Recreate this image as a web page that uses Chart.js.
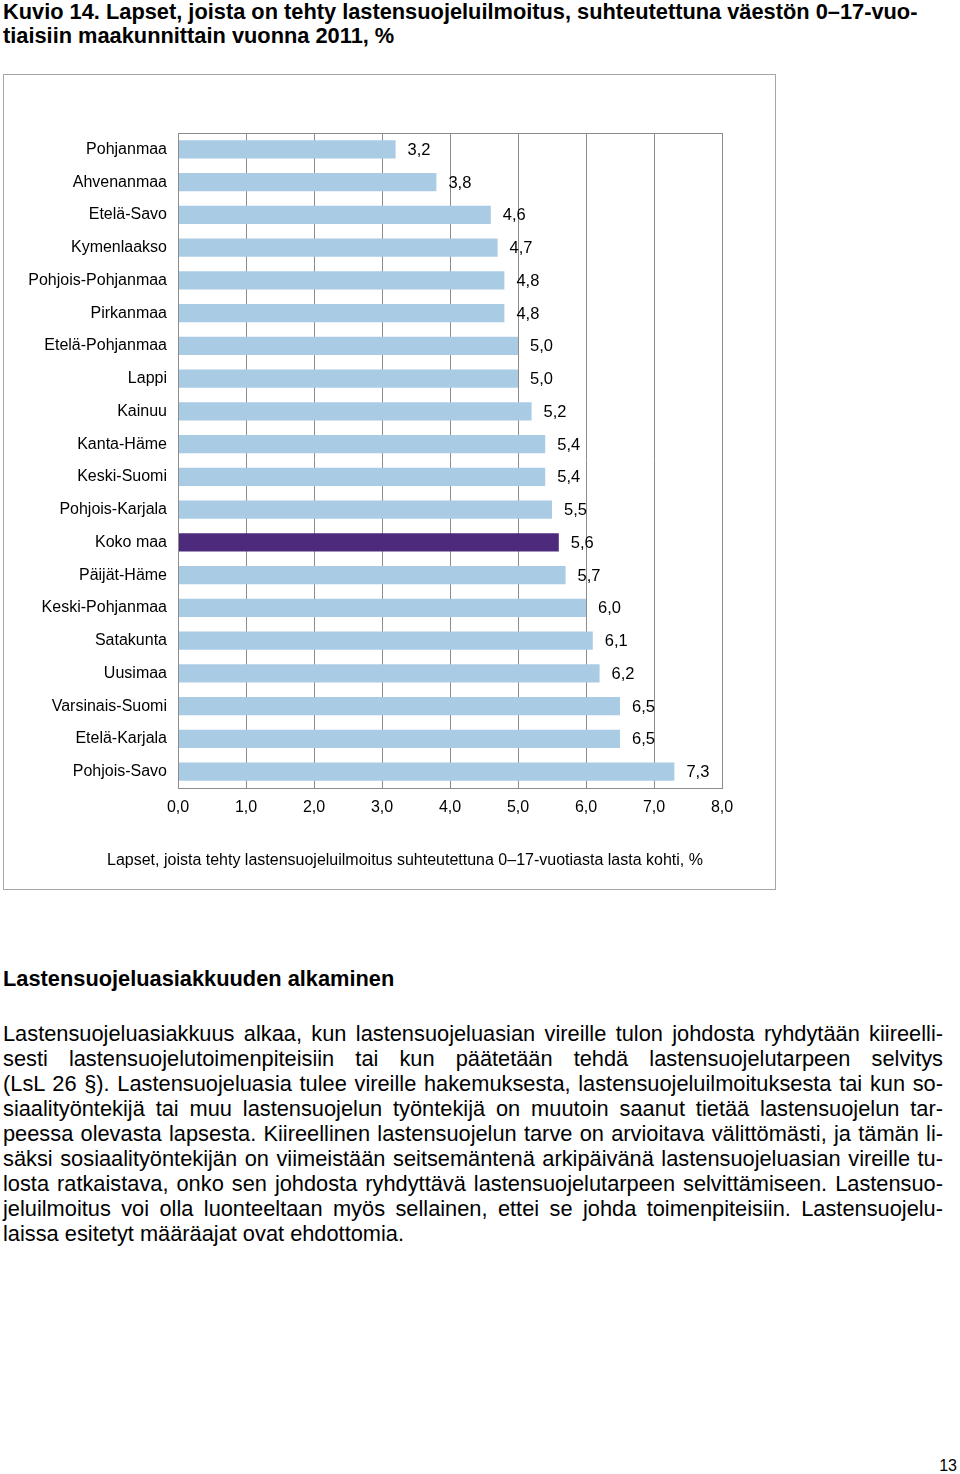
<!DOCTYPE html>
<html>
<head>
<meta charset="utf-8">
<script src="https://cdn.jsdelivr.net/npm/chart.js@4/dist/chart.umd.min.js"></script>
<style>
    body { margin: 0; background: #fff; font-family: "Liberation Sans", Arial, sans-serif; color: #000; }
    .page { position: relative; width: 960px; height: 1474px; }
    .title { position: absolute; left: 3px; top: 0px; font-size: 21.8px; font-weight: bold; line-height: 24px; white-space: nowrap; }
    .box { position: absolute; left: 3px; top: 74px; width: 771px; height: 814px; border: 1px solid #a6a6a6; }
    #chart { position: absolute; left: 3px; top: 74px; }
    .axisTitle { position: absolute; left: 107px; top: 851px; font-size: 16px; white-space: nowrap; }
    .heading { position: absolute; left: 3px; top: 966px; font-size: 21.8px; font-weight: bold; }
    .para { position: absolute; left: 3px; top: 1021px; width: 940px; font-size: 21.8px; line-height: 25px; }
    .para div { text-align: justify; text-align-last: justify; white-space: nowrap; }
    .para div.last { text-align-last: left; }
    .pageNo { position: absolute; right: 3px; top: 1457px; font-size: 16px; }
</style>
</head>
<body>
<div class="page">
    <div class="title">Kuvio 14. Lapset, joista on tehty lastensuojeluilmoitus, suhteutettuna väestön 0–17-vuo-<br>tiaisiin maakunnittain vuonna 2011, %</div>
    <div class="box"></div>
    <canvas id="chart" width="773" height="816"></canvas>
    <div class="axisTitle">Lapset, joista tehty lastensuojeluilmoitus suhteutettuna 0–17-vuotiasta lasta kohti, %</div>
    <div class="heading">Lastensuojeluasiakkuuden alkaminen</div>
    <div class="para">
        <div>Lastensuojeluasiakkuus alkaa, kun lastensuojeluasian vireille tulon johdosta ryhdytään kiireelli-</div>
        <div>sesti lastensuojelutoimenpiteisiin tai kun päätetään tehdä lastensuojelutarpeen selvitys</div>
        <div>(LsL 26 §). Lastensuojeluasia tulee vireille hakemuksesta, lastensuojeluilmoituksesta tai kun so-</div>
        <div>siaalityöntekijä tai muu lastensuojelun työntekijä on muutoin saanut tietää lastensuojelun tar-</div>
        <div>peessa olevasta lapsesta. Kiireellinen lastensuojelun tarve on arvioitava välittömästi, ja tämän li-</div>
        <div>säksi sosiaalityöntekijän on viimeistään seitsemäntenä arkipäivänä lastensuojeluasian vireille tu-</div>
        <div>losta ratkaistava, onko sen johdosta ryhdyttävä lastensuojelutarpeen selvittämiseen. Lastensuo-</div>
        <div>jeluilmoitus voi olla luonteeltaan myös sellainen, ettei se johda toimenpiteisiin. Lastensuojelu-</div>
        <div class="last">laissa esitetyt määräajat ovat ehdottomia.</div>
    </div>
    <div class="pageNo">13</div>
</div>
<script>
// Regions, sorted as in the figure
const regions = [
    'Pohjanmaa', 'Ahvenanmaa', 'Etelä-Savo', 'Kymenlaakso', 'Pohjois-Pohjanmaa',
    'Pirkanmaa', 'Etelä-Pohjanmaa', 'Lappi', 'Kainuu', 'Kanta-Häme',
    'Keski-Suomi', 'Pohjois-Karjala', 'Koko maa', 'Päijät-Häme', 'Keski-Pohjanmaa',
    'Satakunta', 'Uusimaa', 'Varsinais-Suomi', 'Etelä-Karjala', 'Pohjois-Savo'
];
const shares = [
    3.2, 3.8, 4.6, 4.7, 4.8,
    4.8, 5.0, 5.0, 5.2, 5.4,
    5.4, 5.5, 5.6, 5.7, 6.0,
    6.1, 6.2, 6.5, 6.5, 7.3
];
const xTicks = [0, 1, 2, 3, 4, 5, 6, 7, 8];

const fmt = v => v.toFixed(1).replace('.', ',');

// Value labels next to each bar
const valueLabels = {
    id: 'valueLabels',
    afterDatasetsDraw(chart) {
        const ctx = chart.ctx;
        const meta = chart.getDatasetMeta(0);
        ctx.save();
        ctx.font = '16.5px "Liberation Sans", Arial, sans-serif';
        ctx.fillStyle = '#000';
        ctx.textBaseline = 'middle';
        ctx.textAlign = 'left';
        meta.data.forEach((bar, i) => {
            ctx.fillText(fmt(shares[i]), bar.x + 12, bar.y + 1);
        });
        ctx.restore();
    }
};

// Frame round the plot area
const plotFrame = {
    id: 'plotFrame',
    afterDraw(chart) {
        const a = chart.chartArea;
        const ctx = chart.ctx;
        ctx.save();
        ctx.strokeStyle = '#8c8c8c';
        ctx.lineWidth = 1;
        ctx.strokeRect(Math.round(a.left) + 0.5, Math.round(a.top) + 0.5, Math.round(a.right - a.left), Math.round(a.bottom - a.top));
        ctx.restore();
    }
};

new Chart(document.getElementById('chart'), {
    type: 'bar',
    data: {
        labels: regions,
        datasets: [{
            data: shares,
            backgroundColor: regions.map(r => r === 'Koko maa' ? '#4d2a7c' : '#a9cce4'),
            barPercentage: 0.55,
            categoryPercentage: 1
        }]
    },
    options: {
        indexAxis: 'y',
        responsive: false,
        animation: false,
        layout: {
            padding: { top: 59, right: 54, left: 0, bottom: 62 }
        },
        plugins: {
            legend: { display: false },
            tooltip: { enabled: false }
        },
        scales: {
            x: {
                min: 0,
                max: 8,
                afterBuildTicks: scale => {
                    scale.ticks = xTicks.map(v => ({ value: v }));
                },
                afterFit: scale => { scale.height = 40; },
                grid: { color: '#8c8c8c', drawTicks: false },
                border: { display: false },
                ticks: {
                    color: '#000',
                    padding: 10,
                    font: { family: '"Liberation Sans", Arial, sans-serif', size: 16 },
                    callback: v => fmt(v)
                }
            },
            y: {
                afterFit: scale => { scale.width = 175; },
                grid: { display: false },
                border: { display: false },
                ticks: {
                    color: '#000',
                    padding: 3,
                    autoSkip: false,
                    font: { family: '"Liberation Sans", Arial, sans-serif', size: 16 }
                }
            }
        }
    },
    plugins: [valueLabels, plotFrame]
});
</script>
</body>
</html>
